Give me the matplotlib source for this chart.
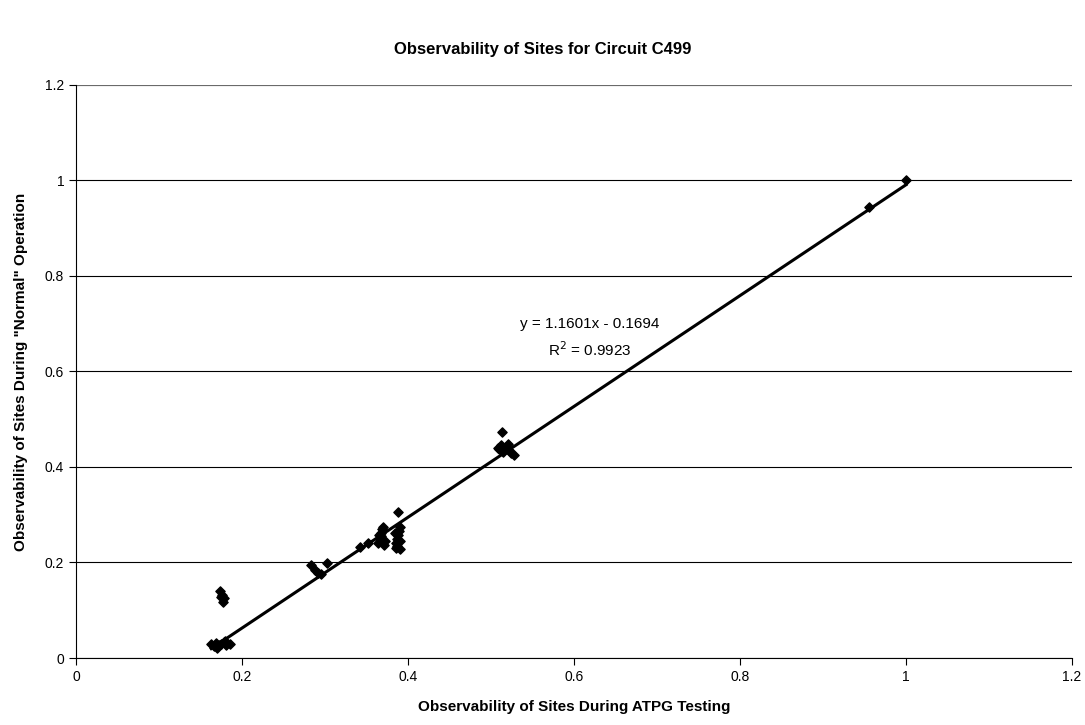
import matplotlib.pyplot as plt
import numpy as np

plt.rcParams['font.family'] = ['Liberation Sans', 'DejaVu Sans']

# data
atpg = [0.163, 0.166, 0.169, 0.172, 0.175, 0.178, 0.181, 0.185, 0.170, 0.180,
        0.174, 0.176, 0.178, 0.177, 0.175,
        0.283, 0.288, 0.292, 0.302, 0.295,
        0.342, 0.352,
        0.364, 0.366, 0.367, 0.369, 0.370, 0.372, 0.368, 0.365, 0.371,
        0.385, 0.386, 0.387, 0.388, 0.389, 0.390, 0.387, 0.388, 0.391, 0.384, 0.390,
        0.513, 0.508, 0.512, 0.516, 0.520, 0.524, 0.528, 0.518, 0.514, 0.510, 0.522,
        0.955, 1.0]
normal = [0.030, 0.025, 0.032, 0.028, 0.030, 0.033, 0.027, 0.030, 0.022, 0.035,
          0.140, 0.132, 0.125, 0.118, 0.128,
          0.195, 0.185, 0.178, 0.198, 0.175,
          0.233, 0.240,
          0.240, 0.250, 0.262, 0.270, 0.275, 0.245, 0.255, 0.258, 0.237,
          0.230, 0.240, 0.250, 0.258, 0.265, 0.275, 0.235, 0.305, 0.245, 0.262, 0.228,
          0.473, 0.440, 0.445, 0.435, 0.448, 0.430, 0.425, 0.442, 0.432, 0.438, 0.436,
          0.945, 1.0]

slope = 1.1601
intercept = -0.1694
r2 = 0.9923

fig = plt.figure(figsize=(10.85, 7.25), dpi=100)
ax = fig.add_axes([0.070, 0.0924, 0.918, 0.7906])

ax.scatter(atpg, normal, marker='D', s=22, color='black', zorder=3)

xs = np.array([min(atpg), max(atpg)])
ax.plot(xs, slope * xs + intercept, color='black', lw=2.2, zorder=2)

ax.set_xlim(0, 1.2)
ax.set_ylim(0, 1.2)
ax.set_xticks(np.arange(0, 1.21, 0.2))
ax.set_yticks(np.arange(0, 1.21, 0.2))
ax.set_xticklabels(['0', '0.2', '0.4', '0.6', '0.8', '1', '1.2'])
ax.set_yticklabels(['0', '0.2', '0.4', '0.6', '0.8', '1', '1.2'])
ax.tick_params(direction='out', length=5, labelsize=10, width=0.8)

ax.yaxis.grid(True, color='black', lw=0.8)
ax.set_axisbelow(True)
ax.spines['top'].set_visible(False)
ax.spines['right'].set_visible(False)
ax.axhline(1.2, color='#808080', lw=1.2)

ax.text(0.619, 0.70, 'y = 1.1601x - 0.1694', ha='center', va='center', fontsize=11)
ax.text(0.619, 0.645, 'R$^{2}$ = %.4f' % r2, ha='center', va='center', fontsize=11)

ax.set_xlabel('Observability of Sites During ATPG Testing', fontsize=11, fontweight='bold', labelpad=12)
ax.set_ylabel('Observability of Sites During "Normal" Operation', fontsize=11, fontweight='bold', labelpad=12)
fig.suptitle('Observability of Sites for Circuit C499', fontsize=12, fontweight='bold', y=0.942)

plt.savefig('out.png', dpi=100)
